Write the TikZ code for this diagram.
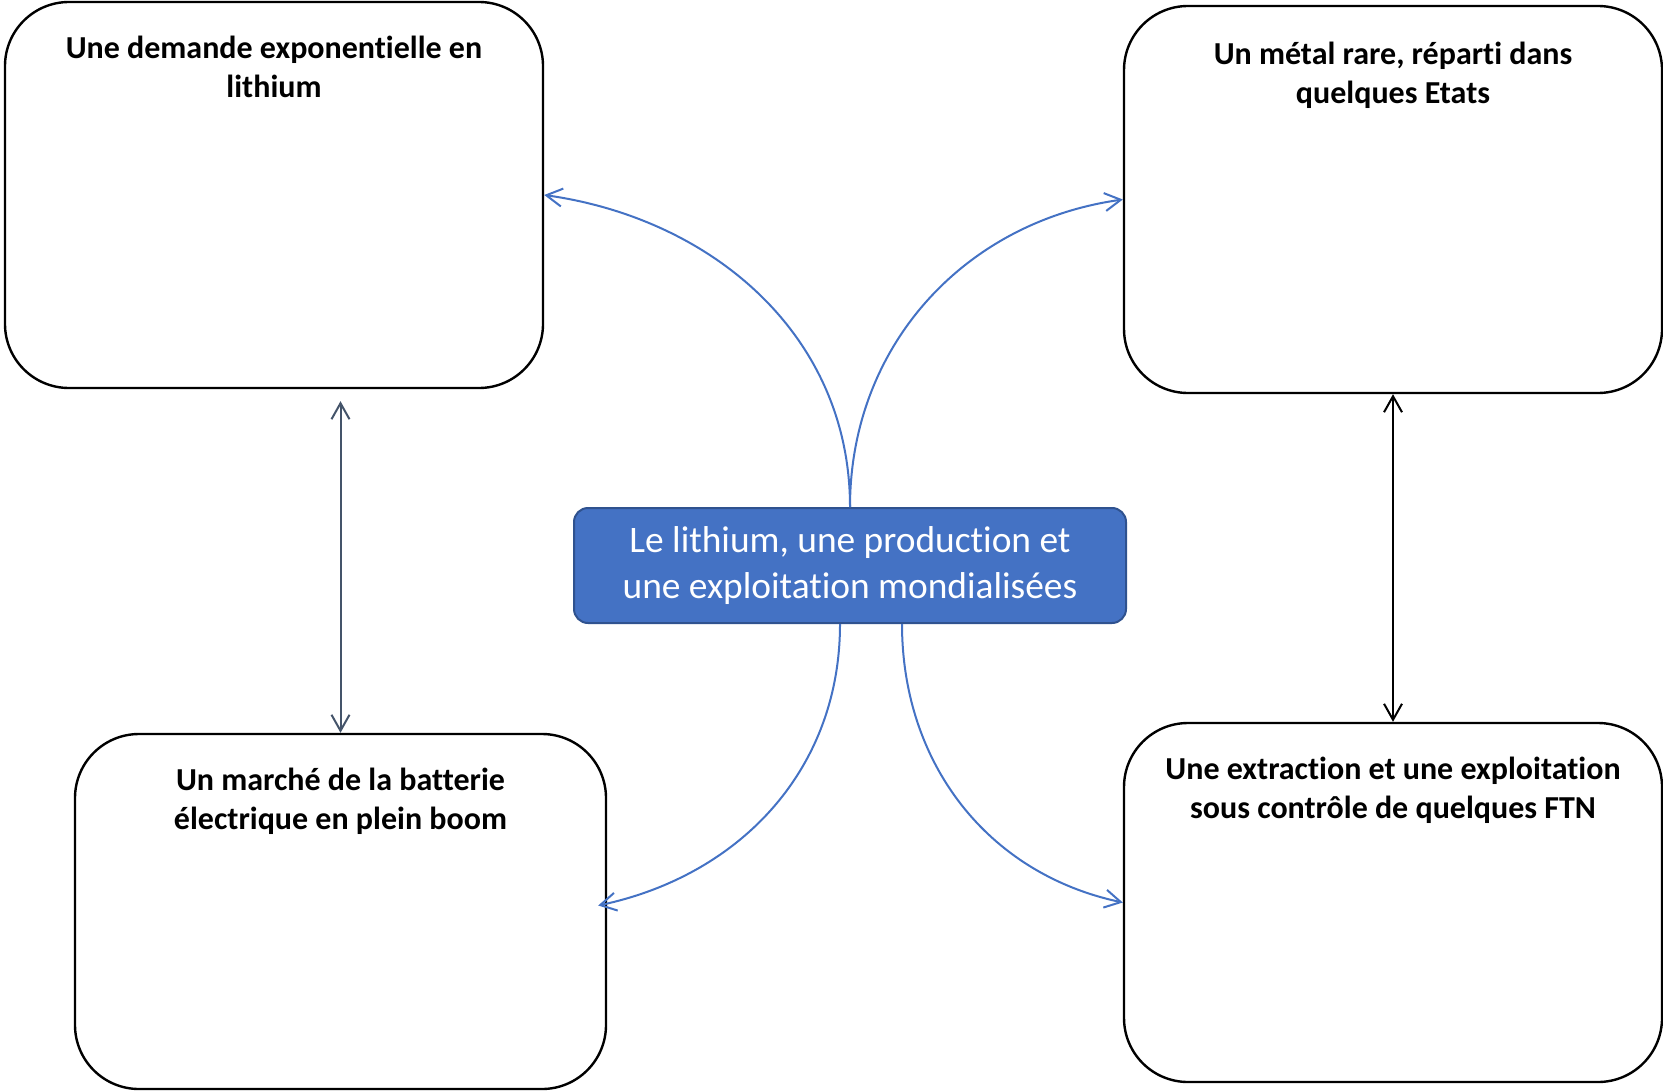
\documentclass[tikz,border=0pt]{standalone}
\usepackage{fontspec}
\setmainfont[Ligatures=NoCommon]{Carlito}
\usetikzlibrary{arrows.meta}
\definecolor{lithblue}{HTML}{4472C4}
\definecolor{lithedge}{HTML}{2F528F}
\definecolor{lithslate}{HTML}{44546A}
\tikzset{
  box/.style={draw=black,line width=1.2pt,rounded corners=32pt,fill=white},
  boxtitle/.style={font=\bfseries\fontsize{16}{19.2}\selectfont,align=center,inner sep=0pt,anchor=north},
  centre/.style={draw=lithedge,line width=1pt,fill=lithblue,rounded corners=7pt,text=white,
    font=\fontsize{18.7}{23.2}\selectfont,align=center,minimum width=276pt,minimum height=57.5pt},
  barb/.tip={Straight Barb[length=8pt,width=9pt]},
  link/.style={lithblue,line width=1pt,-barb},
  twoway/.style={line width=1pt,barb-barb}
}
\begin{document}
\begin{tikzpicture}[x=0.5pt,y=-0.5pt]
\useasboundingbox (0,0) rectangle (1663,1091);
% the four boxes
\node[box,minimum width=269pt,minimum height=193pt] (tl) at (274,195) {};
\node[box,minimum width=269pt,minimum height=193.5pt] (tr) at (1393,199.5) {};
\node[box,minimum width=265.5pt,minimum height=177.5pt] (bl) at (340.5,911.5) {};
\node[box,minimum width=269pt,minimum height=179.5pt] (br) at (1393,902.5) {};
\node[boxtitle] (tltext) at ([yshift=-17.5pt]tl.north) {Une demande exponentielle en\\lithium};
\node[boxtitle] (trtext) at ([yshift=-18.5pt]tr.north) {Un métal rare, réparti dans\\quelques Etats};
\node[boxtitle] (bltext) at ([yshift=-17.5pt]bl.north) {Un marché de la batterie\\électrique en plein boom};
\node[boxtitle] (brtext) at ([yshift=-17.5pt]br.north) {Une extraction et une exploitation\\sous contrôle de quelques FTN};
% centre
\node[centre] (ctr) at (850,565.5) {Le lithium, une production et\\une exploitation mondialisées};
% links
\draw[link] (ctr.north) to[out=90,in=-8] (tl.east);
\draw[link] (ctr.north) to[out=90,in=188] (tr.west);
\draw[link] ([xshift=-5pt]ctr.south) to[out=-90,in=12] ([xshift=-4.5pt,yshift=3pt]bl.east);
\draw[link] ([xshift=26pt]ctr.south) to[out=-90,in=168] (br.west);
\draw[twoway,lithslate,shorten <=6pt] (tl.south -| bl.north) -- (bl.north);
\draw[twoway,black] (tr.south) -- (br.north);
\end{tikzpicture}
\end{document}
